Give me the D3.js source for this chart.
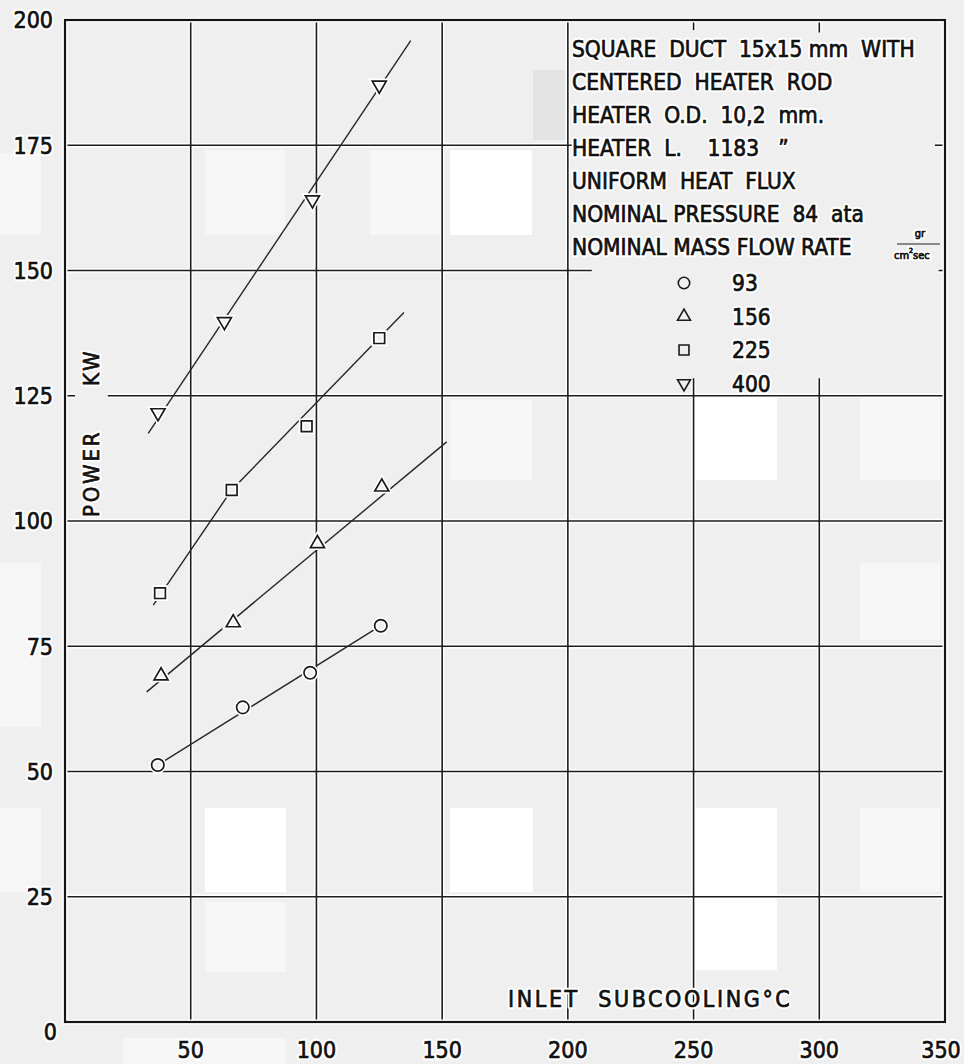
<!DOCTYPE html>
<html>
<head>
<meta charset="utf-8">
<script src="https://cdn.jsdelivr.net/npm/d3@7"></script>
<style>
  body { margin: 0; background: #efefef; }
  svg text { font-family: "DejaVu Sans Condensed", "DejaVu Sans", sans-serif; }
  svg text.halo { fill: #ffffff; stroke: #ffffff; stroke-width: 4.5px; stroke-linejoin: round; }
  svg text.ink  { fill: #111111; stroke: #111111; stroke-width: 0.7px; }
</style>
</head>
<body>
<svg id="chart" width="964" height="1064"></svg>
<script>
// ---- axis ticks ----
const xTicks = [50, 100, 150, 200, 250, 300, 350];
const yTicks = [25, 50, 75, 100, 125, 150, 175, 200];

// ---- legend: nominal mass flow rate, gr/cm2 sec ----
const flowRates = ["93", "156", "225", "400"];
const markerKinds = ["circle", "up", "square", "down"];

// ---- measured points: inlet subcooling (°C) vs power (kW) ----
const subcool93  = [36.9, 70.7, 97.5, 125.6];
const power93    = [51.3, 62.8, 69.7, 79.1];
const subcool156 = [38.2, 66.9, 100.4, 126.0];
const power156   = [69.1, 79.7, 95.5, 106.8];
const subcool225 = [37.8, 66.3, 96.1, 125.0];
const power225   = [85.6, 106.2, 118.9, 136.5];
const subcool400 = [37.0, 63.4, 98.4, 125.0];
const power400   = [121.6, 139.8, 164.1, 187.0];

// ---- hand-drawn trend lines (vertices) ----
const fitX93  = [36.9, 125.6],       fitY93  = [51.3, 79.1];
const fitX156 = [32.5, 151.8],       fitY156 = [65.9, 115.8];
const fitX225 = [35.1, 66.3, 134.8], fitY225 = [83.2, 106.2, 141.6];
const fitX400 = [33.1, 137.5],       fitY400 = [117.5, 195.9];

// ---- heading text of the data block ----
const noteLines = [
  "SQUARE  DUCT  15x15 mm  WITH",
  "CENTERED  HEATER  ROD",
  "HEATER  O.D.  10,2  mm.",
  "HEATER  L.    1183   \u201D",
  "UNIFORM  HEAT  FLUX",
  "NOMINAL PRESSURE  84  ata",
  "NOMINAL MASS FLOW RATE"
];

const series = [
  { x: subcool93,  y: power93,  fx: fitX93,  fy: fitY93,  kind: markerKinds[0] },
  { x: subcool156, y: power156, fx: fitX156, fy: fitY156, kind: markerKinds[1] },
  { x: subcool225, y: power225, fx: fitX225, fy: fitY225, kind: markerKinds[2] },
  { x: subcool400, y: power400, fx: fitX400, fy: fitY400, kind: markerKinds[3] }
];

const svg = d3.select("#chart");
const x = d3.scaleLinear().domain([0, 350]).range([65, 945]);
const y = d3.scaleLinear().domain([0, 200]).range([1022, 20]);

// text drawn as a white halo underneath a slightly heavy ink copy
function label(parent, attrs, content, extraStyle) {
  const g = parent.append("g");
  ["halo", "ink"].forEach(cls => {
    const t = g.append("text").attr("class", cls);
    Object.entries(attrs).forEach(([k, v]) => t.attr(k, v));
    if (extraStyle) Object.entries(extraStyle).forEach(([k, v]) => t.style(k, v));
    content(t);
  });
  return g;
}

// faint paper blotches of the printed sheet
const blotches = [
  [205,150,285,235,"#f6f6f6"],[370,150,440,235,"#f6f6f6"],[450,150,532,235,"#ffffff"],
  [0,153,41,235,"#f6f6f6"],[450,400,532,480,"#f6f6f6"],[695,398,777,480,"#ffffff"],
  [860,398,940,480,"#f6f6f6"],[860,563,940,640,"#f6f6f6"],[0,563,41,727,"#f6f6f6"],
  [205,808,286,892,"#ffffff"],[205,902,286,972,"#f6f6f6"],[450,808,533,892,"#ffffff"],
  [695,808,777,970,"#ffffff"],[860,808,940,892,"#f6f6f6"],[0,808,41,892,"#f6f6f6"],
  [123,1038,286,1064,"#f6f6f6"],[533,70,565,140,"#e4e4e4"]
];
svg.append("g").selectAll("rect").data(blotches).join("rect")
  .attr("x", d => d[0]).attr("y", d => d[1])
  .attr("width", d => d[2] - d[0]).attr("height", d => d[3] - d[1])
  .attr("fill", d => d[4]);

// grid lines; some are interrupted where the data block sits
const xGaps = { 250: [[128.5, 198]], 300: [[128.5, 197.5]] };
const yGaps = { 175: [[203, 346]], 150: [[209.5, 347.5]], 125: [[4, 17]] };

function segments(lo, hi, gaps) {
  const out = []; let start = lo;
  (gaps || []).forEach(([a, b]) => { out.push([start, a]); start = b; });
  out.push([start, hi]);
  return out;
}
const gridSegs = [];
xTicks.filter(v => v < 350).forEach(v =>
  segments(0, 200, xGaps[v]).forEach(([a, b]) =>
    gridSegs.push({ x1: x(v), x2: x(v), y1: y(a), y2: y(b) })));
yTicks.filter(v => v < 200).forEach(v =>
  segments(0, 350, yGaps[v]).forEach(([a, b]) =>
    gridSegs.push({ x1: x(a), x2: x(b), y1: y(v), y2: y(v) })));

const grid = svg.append("g");
grid.selectAll("line.halo").data(gridSegs).join("line").attr("class", "halo")
  .attr("x1", d => d.x1).attr("x2", d => d.x2).attr("y1", d => d.y1).attr("y2", d => d.y2)
  .attr("stroke", "#ffffff").attr("stroke-width", 4.5);
grid.selectAll("line.ink").data(gridSegs).join("line").attr("class", "ink")
  .attr("x1", d => d.x1).attr("x2", d => d.x2).attr("y1", d => d.y1).attr("y2", d => d.y2)
  .attr("stroke", "#1c1c1c").attr("stroke-width", 1.6);

// frame
svg.append("rect").attr("x", x(0)).attr("y", y(200))
  .attr("width", x(350) - x(0)).attr("height", y(0) - y(200))
  .attr("fill", "none").attr("stroke", "#ffffff").attr("stroke-width", 5);
svg.append("rect").attr("x", x(0)).attr("y", y(200))
  .attr("width", x(350) - x(0)).attr("height", y(0) - y(200))
  .attr("fill", "none").attr("stroke", "#151515").attr("stroke-width", 2.2);

// tick labels
yTicks.forEach(v => label(svg,
  { x: 53, y: y(v), dy: "0.36em", "text-anchor": "end", "font-size": 23 }, t => t.text(v)));
label(svg, { x: 57, y: y(0) + 10, dy: "0.36em", "text-anchor": "end", "font-size": 23 }, t => t.text("0"));
xTicks.forEach(v => label(svg,
  { x: x(v) - (v === 350 ? 4 : 0), y: 1050, dy: "0.36em", "text-anchor": "middle", "font-size": 23 },
  t => t.text(v)));

// axis titles
label(svg, { x: 508, y: 999, dy: "0.36em", "font-size": 23, "letter-spacing": 2.6 },
  t => t.text("INLET  SUBCOOLING\u00B0C"), { "white-space": "pre" });
label(svg, { transform: "translate(99,517) rotate(-90)", "font-size": 22, "letter-spacing": 2.8 },
  t => t.text("POWER"));
label(svg, { transform: "translate(99,386) rotate(-90)", "font-size": 22, "letter-spacing": 2.8 },
  t => t.text("KW"));

// marker shapes
function markerPath(kind, scale) {
  const s = scale || 1;
  if (kind === "circle") return d3.symbol(d3.symbolCircle, 120 * s)();
  if (kind === "square") return d3.symbol(d3.symbolSquare, 115 * s)();
  return d3.symbol(d3.symbolTriangle, 85 * s)();
}
function markerRot(kind) { return kind === "down" ? 180 : 0; }

// trend lines and points
const line = d3.line().x(d => x(d[0])).y(d => y(d[1]));
const plot = svg.append("g");
series.forEach(s => {
  const pts = s.x.map((v, i) => [v, s.y[i]]);
  plot.append("path").datum(s.fx.map((v, i) => [v, s.fy[i]]))
    .attr("d", line).attr("fill", "none")
    .attr("stroke", "#262626").attr("stroke-width", 1.4);
  const g = plot.append("g");
  g.selectAll("path.halo").data(pts).join("path").attr("class", "halo")
    .attr("d", markerPath(s.kind))
    .attr("transform", d => `translate(${x(d[0])},${y(d[1])}) rotate(${markerRot(s.kind)})`)
    .attr("fill", "#efefef").attr("stroke", "#ffffff").attr("stroke-width", 5);
  g.selectAll("path.mk").data(pts).join("path").attr("class", "mk")
    .attr("d", markerPath(s.kind))
    .attr("transform", d => `translate(${x(d[0])},${y(d[1])}) rotate(${markerRot(s.kind)})`)
    .attr("fill", "none").attr("stroke", "#1a1a1a").attr("stroke-width", 1.7);
});

// data block text
const note = svg.append("g");
noteLines.forEach((txt, i) => label(note,
  { x: 572, y: 49 + i * 33, dy: "0.36em", "font-size": 22.5 }, t => t.text(txt), { "white-space": "pre" }));

// unit gr / cm2 sec
label(note, { x: 920, y: 237, "text-anchor": "middle", "font-size": 11 }, t => t.text("gr"));
note.append("line").attr("x1", 897).attr("x2", 940).attr("y1", 244).attr("y2", 244)
  .attr("stroke", "#222").attr("stroke-width", 1);
label(note, { x: 894, y: 259, "font-size": 11 }, t => {
  t.append("tspan").text("cm");
  t.append("tspan").attr("font-size", 7).attr("dy", -6).text("2");
  t.append("tspan").attr("dy", 6).text("sec");
});

// legend rows
flowRates.forEach((rate, i) => {
  const cy = 283 + i * 33.5;
  note.append("path")
    .attr("d", markerPath(markerKinds[i], 0.85))
    .attr("transform", `translate(684,${cy}) rotate(${markerRot(markerKinds[i])})`)
    .attr("fill", "none").attr("stroke", "#1a1a1a").attr("stroke-width", 1.6);
  label(note, { x: 732, y: cy, dy: "0.36em", "font-size": 22.5 }, t => t.text(rate));
});
</script>
</body>
</html>
